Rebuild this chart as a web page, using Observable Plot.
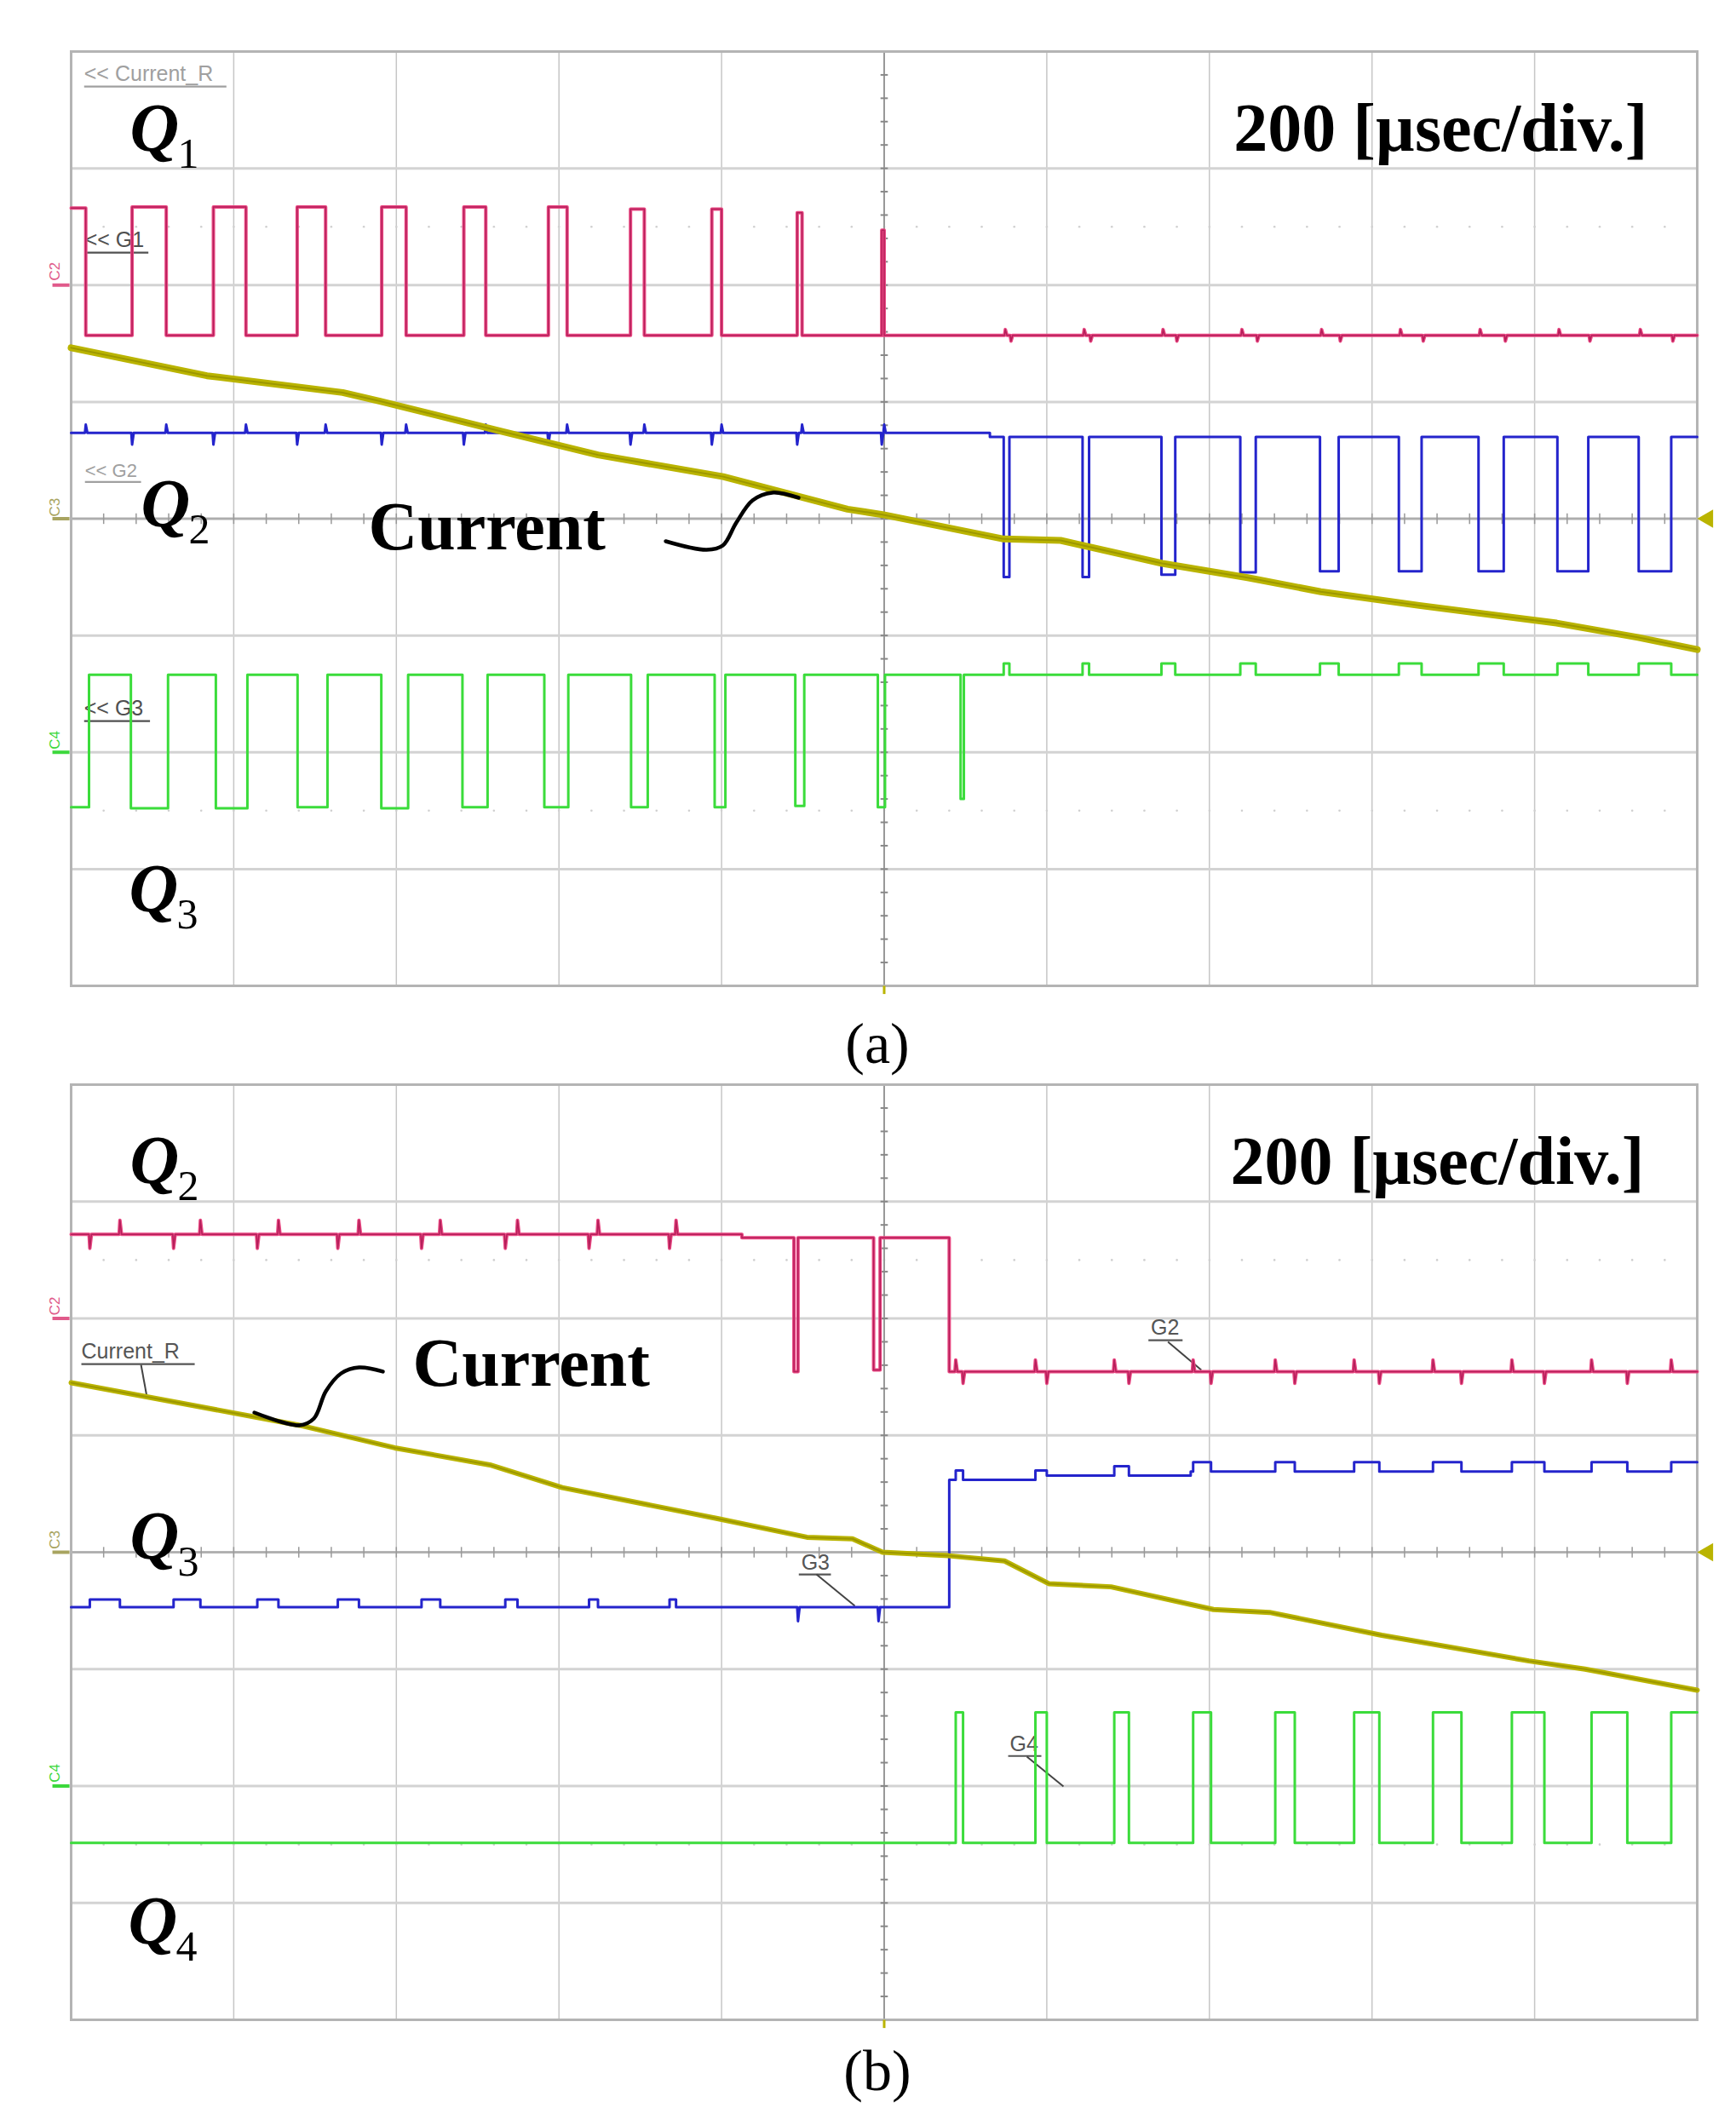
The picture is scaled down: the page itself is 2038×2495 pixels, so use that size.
<!DOCTYPE html>
<html><head><meta charset="utf-8">
<script src="https://cdn.jsdelivr.net/npm/d3@7"></script>
<script src="https://cdn.jsdelivr.net/npm/@observablehq/plot@0.6"></script>
<style>
html,body{margin:0;padding:0;background:#fff;overflow:hidden}
#root{position:relative;width:2038px;height:2495px;background:#fff}
.panel{position:absolute;left:0}
.cap{position:absolute;left:930px;width:200px;text-align:center;font-family:"Liberation Serif","Times New Roman",serif;font-size:68px;line-height:1;color:#000}
</style></head><body>
<div id="root">
<div id="pa" class="panel" style="top:0"></div>
<div class="cap" style="top:1191px">(a)</div>
<div id="pb" class="panel" style="top:1260px"></div>
<div class="cap" style="top:2397px">(b)</div>
</div>
<script>
// time axis: µs (200 µs/div, 10 div), vertical: divisions (8 div)
const T0 = -1000, T1 = 1000;

// ---------- Panel (a) ----------
const A_Q1_rise = [-1000, -925, -825, -722, -618, -517, -413, -312, -212, -107, -3];
const A_Q1_fall = [-982, -883, -785, -687, -588, -490, -390, -295, -200, -101, 0];
const A_Q1_peak = [2.66, 2.67, 2.67, 2.67, 2.67, 2.67, 2.67, 2.65, 2.65, 2.62, 2.47];
const A_Q1_low = 1.57;

const A_Q2_fall = [147, 244, 341, 438, 536, 633, 731, 828, 928];
const A_Q2_rise = [154, 252, 358, 457, 559, 661, 762, 866, 968];
const A_Q2_low = [-0.5, -0.5, -0.48, -0.46, -0.45, -0.45, -0.45, -0.45, -0.45];
const A_Q2_high = [0.735, 0.70];
const A_Q2_highChange = 130;

const A_Q3_fall = [-1000, -926.5, -822, -721.5, -618.5, -518.7, -418, -311.3, -208.5, -109.3, -7.8, 94];
const A_Q3_rise = [-978, -880.8, -783.2, -684.7, -585.5, -487.8, -388.5, -290.8, -195.3, -98.3, 1, 98];
const A_Q3_trough = [-2.47, -2.48, -2.48, -2.47, -2.48, -2.47, -2.47, -2.47, -2.47, -2.46, -2.47, -2.40];
const A_Q3_high = -1.336;
const A_Q3_bump = -1.24;

const A_I_t = [-1000, -833, -666, -620, -472, -352, -198, -105, -45, -2, 147, 217, 342, 447, 537, 658, 827, 927, 1000];
const A_I_v = [1.463, 1.224, 1.08, 1.006, 0.75, 0.546, 0.36, 0.19, 0.081, 0.035, -0.174, -0.186, -0.383, -0.505, -0.625, -0.743, -0.894, -1.016, -1.12];

// ---------- Panel (b) ----------
const B_Q2_high = [2.72, 2.69];
const B_Q2_highChange = -175;
const B_Q2_off = 80;
const B_Q2_low = 1.545;
const B_Q2_dipStart = [-111, -13];
const B_Q2_dipEnd = [-106, -5];
const B_Q2_dipLevel = [1.545, 1.56];

const B_Q3_low = -0.47;
const B_Q3_on = 80;
const B_Q3_highLevels = [0.62, 0.655, 0.69];
const B_Q3_highChanges = [189, 377];
const B_Q3_humpStart = [-977, -874, -771, -672, -569, -466, -363, -264];
const B_Q3_humpEnd = [-940, -841, -745, -646, -546, -451, -352, -256];
const B_Q3_spikes = [-106, -7];

const B_Q4_rise = [88, 186, 283, 380, 481, 578, 675, 772, 870, 968];
const B_Q4_fall = [97, 200, 301, 402, 505, 609, 710, 812, 914, 1000];
const B_Q4_high = -1.37;
const B_Q4_low = -2.487;

const B_I_t = [-1000, -719, -602, -485, -396, -205, -95, -39, -2, 79, 148, 203, 279, 405, 474, 612, 793, 862, 1000];
const B_I_v = [1.45, 1.086, 0.893, 0.747, 0.553, 0.288, 0.128, 0.115, 0.0, -0.03, -0.075, -0.27, -0.296, -0.49, -0.515, -0.71, -0.93, -1.0, -1.18];

// ---------- helpers ----------
function pulsesFrom(starts, ends, levels) {
  return starts.map((a, i) => ({a, b: ends[i], v: Array.isArray(levels) ? levels[i] : levels}));
}
function baseFn(segs) {
  return t => { for (const s of segs) if (t >= s.from && t < s.to) return s.v; return segs[segs.length - 1].v; };
}
function buildTrace(segs, pulses, blips) {
  const baseAt = baseFn(segs);
  let verts = [];
  for (const s of segs) { verts.push({t: s.from, v: s.v}); verts.push({t: s.to, v: s.v}); }
  verts = verts.filter(p => !pulses.some(q => (p.t > q.a && p.t < q.b) || (q.a <= T0 && p.t === T0) || (q.b >= T1 && p.t === T1)));
  for (const q of pulses) {
    if (q.a > T0) verts.push({t: q.a, v: baseAt(q.a)});
    verts.push({t: q.a, v: q.v});
    verts.push({t: q.b, v: q.v});
    if (q.b < T1) verts.push({t: q.b, v: baseAt(q.b)});
  }
  const levelAt = t => { for (const q of pulses) if (t >= q.a && t <= q.b) return q.v; return baseAt(t); };
  for (const b of (blips || [])) {
    const lv = levelAt(b.t);
    verts.push({t: b.t - 1, v: lv}, {t: b.t, v: lv + b.dv}, {t: b.t + 2, v: lv});
  }
  verts.sort((p, q) => p.t - q.t);
  return verts;
}

const SERIF = '"Liberation Serif","Times New Roman",serif';
const SANS = '"Liberation Sans",Arial,sans-serif';
const PINK = "#ea4a84", PINK_CORE = "#b51f5a", BLUE = "#2424cc", GREEN = "#3bdc3b", OLIVE = "#bab400", OLIVE_CORE = "#9c9700";

function gridMarks() {
  return [
    Plot.ruleX(d3.range(-1000, 1001, 200), {stroke: "#c6c6c6", strokeWidth: 1.5}),
    Plot.ruleY(d3.range(-4, 4.5, 1), {stroke: "#d3d3d3", strokeWidth: 3}),
    Plot.dot(d3.range(-1000, 1001, 40).flatMap(t => [{t, v: 2.5}, {t, v: -2.5}]), {x: "t", y: "v", r: 1.3, fill: "#cfcfcf", stroke: null}),
    Plot.ruleX([0], {stroke: "#999", strokeWidth: 2}),
    Plot.ruleY([0], {stroke: "#adadad", strokeWidth: 2.5}),
    Plot.link(d3.range(-4, 4.001, 0.2), {x1: -4.5, x2: 4.5, y1: d => d, y2: d => d, stroke: "#888", strokeWidth: 2}),
    Plot.link(d3.range(-1000, 1000.1, 40), {x1: d => d, x2: d => d, y1: -0.045, y2: 0.045, stroke: "#999", strokeWidth: 1.5}),
    Plot.frame({stroke: "#b4b4b4", strokeWidth: 3}),
    Plot.link([0], {x1: 0, x2: 0, y1: -4, y2: -4.07, stroke: OLIVE, strokeWidth: 3}),
    Plot.dot([0], {x: 1013, y: 0, symbol: "triangle", rotate: -90, r: 8, fill: OLIVE, stroke: null})
  ];
}
function qLabel(t, v, sub) {
  return [
    Plot.text(["Q"], {x: t, y: v, text: d => d, textAnchor: "start", lineAnchor: "bottom", fontFamily: SERIF, fontSize: 80, fontWeight: "bold", fontStyle: "italic", fill: "#000"}),
    Plot.text([sub], {x: t, y: v, text: d => d, dx: 56, dy: 20, textAnchor: "start", lineAnchor: "bottom", fontFamily: SERIF, fontSize: 50, fill: "#000"})
  ];
}
function chMarker(name, v, tv, color) {
  return [
    Plot.text([name], {x: -1020, y: tv, text: d => d, rotate: -90, textAnchor: "middle", lineAnchor: "middle", fontFamily: SANS, fontSize: 17, fill: color}),
    Plot.link([0], {x1: -1023, x2: -1002, y1: v, y2: v, stroke: color, strokeWidth: 4})
  ];
}
function tag(t, v, txt, color, ulFrom, ulTo, size) {
  return [
    Plot.text([txt], {x: t, y: v, text: d => d, textAnchor: "start", lineAnchor: "bottom", fontFamily: SANS, fontSize: size || 25, fill: color}),
    Plot.link([0], {x1: ulFrom, x2: ulTo, y1: v - 0.045, y2: v - 0.045, stroke: color, strokeWidth: 2.2})
  ];
}
function traceMarks(pts, color, width, core, coreWidth) {
  const m = [Plot.line(pts, {x: "t", y: "v", stroke: color, strokeWidth: width, strokeLinejoin: "round"})];
  if (core) m.push(Plot.line(pts, {x: "t", y: "v", stroke: core, strokeWidth: coreWidth, strokeLinejoin: "round"}));
  return m;
}
const bigText = (t, v, txt, anchor) => Plot.text([txt], {x: t, y: v, text: d => d, textAnchor: anchor, lineAnchor: "bottom", fontFamily: SERIF, fontSize: 80, fontWeight: "bold", fill: "#000"});

// ---------- traces (a) ----------
const aPink = buildTrace(
  [{from: T0, to: T1, v: A_Q1_low}],
  pulsesFrom(A_Q1_rise, A_Q1_fall, A_Q1_peak),
  A_Q2_fall.map(t => ({t: t + 2, dv: 0.05})).concat(A_Q2_rise.map(t => ({t: t + 2, dv: -0.05})))
);
const aBlue = buildTrace(
  [{from: T0, to: A_Q2_highChange, v: A_Q2_high[0]}, {from: A_Q2_highChange, to: T1, v: A_Q2_high[1]}],
  pulsesFrom(A_Q2_fall, A_Q2_rise, A_Q2_low),
  A_Q1_rise.filter(t => t > T0).map(t => ({t, dv: -0.1})).concat(A_Q1_fall.map(t => ({t, dv: 0.07})))
);
const aGreen = buildTrace(
  [{from: T0, to: T1, v: A_Q3_high}],
  pulsesFrom(A_Q3_fall, A_Q3_rise, A_Q3_trough).concat(pulsesFrom(A_Q2_fall, A_Q2_rise, A_Q3_bump)),
  []
);
const aCurrent = A_I_t.map((t, i) => ({t, v: A_I_v[i]}));

// ---------- traces (b) ----------
const bPink = buildTrace(
  [{from: T0, to: B_Q2_highChange, v: B_Q2_high[0]}, {from: B_Q2_highChange, to: B_Q2_off, v: B_Q2_high[1]}, {from: B_Q2_off, to: T1, v: B_Q2_low}],
  pulsesFrom(B_Q2_dipStart, B_Q2_dipEnd, B_Q2_dipLevel),
  B_Q3_humpStart.map(t => ({t, dv: -0.12}))
    .concat(B_Q3_humpEnd.map(t => ({t, dv: 0.12})))
    .concat(B_Q4_rise.map(t => ({t, dv: 0.1})))
    .concat(B_Q4_fall.filter(t => t < T1).map(t => ({t, dv: -0.1})))
);
const bBlueSegs = [{from: T0, to: B_Q3_on, v: B_Q3_low},
  {from: B_Q3_on, to: B_Q3_highChanges[0], v: B_Q3_highLevels[0]},
  {from: B_Q3_highChanges[0], to: B_Q3_highChanges[1], v: B_Q3_highLevels[1]},
  {from: B_Q3_highChanges[1], to: T1, v: B_Q3_highLevels[2]}];
const bBlueBase = baseFn(bBlueSegs);
const bBlue = buildTrace(
  bBlueSegs,
  pulsesFrom(B_Q3_humpStart, B_Q3_humpEnd, B_Q3_low + 0.065)
    .concat(B_Q4_rise.map((a, i) => ({a, b: B_Q4_fall[i], v: bBlueBase(a) + 0.08}))),
  B_Q3_spikes.map(t => ({t, dv: -0.12}))
);
const bGreen = buildTrace(
  [{from: T0, to: T1, v: B_Q4_low}],
  pulsesFrom(B_Q4_rise, B_Q4_fall, B_Q4_high),
  []
);
const bCurrent = B_I_t.map((t, i) => ({t, v: B_I_v[i]}));

// ---------- panel (a) ----------
const squigA = [{t: -268.7, v: -0.193}, {t: -218.4, v: -0.266}, {t: -198.5, v: -0.23}, {t: -181.8, v: -0.033}, {t: -161.9, v: 0.157}, {t: -137.8, v: 0.223}, {t: -105.3, v: 0.179}];
const plotA = Plot.plot({
  width: 2038, height: 1200,
  marginLeft: 83, marginRight: 46, marginTop: 60, marginBottom: 43,
  x: {domain: [T0, T1], axis: null},
  y: {domain: [-4, 4], axis: null},
  style: {background: "transparent", overflow: "visible"},
  marks: [
    ...gridMarks(),
    ...chMarker("C2", 2, 2.117, "#e05a8a"),
    ...chMarker("C3", 0, 0.098, "#a8a460"),
    ...chMarker("C4", -2, -1.896, "#3cd83c"),
    ...tag(-984, 3.745, "<< Current_R", "#a0a0a0", -984, -809),
    ...tag(-983, 2.323, "<< G1", "#505050", -983, -905),
    ...tag(-983, 0.36, "<< G2", "#a0a0a0", -983, -914, 22),
    ...tag(-984, -1.688, "<< G3", "#505050", -984, -903),
    ...traceMarks(aGreen, GREEN, 3),
    ...traceMarks(aBlue, BLUE, 3),
    ...traceMarks(aPink, PINK, 4, PINK_CORE, 1.5),
    ...traceMarks(aCurrent, OLIVE, 8, OLIVE_CORE, 2),
    ...qLabel(-927.7, 3.154, "1"),
    ...qLabel(-914, -0.069, "2"),
    ...qLabel(-928.7, -3.36, "3"),
    bigText(939, 3.147, "200 [µsec/div.]", "end"),
    bigText(-634.4, -0.266, "Current", "start"),
    Plot.line(squigA, {x: "t", y: "v", curve: "catmull-rom", stroke: "#000", strokeWidth: 4.5})
  ]
});
document.getElementById("pa").appendChild(plotA);

// ---------- panel (b) ----------
const squigB = [{t: -774.7, v: 1.195}, {t: -719.2, v: 1.086}, {t: -701.4, v: 1.144}, {t: -686.7, v: 1.377}, {t: -667.9, v: 1.53}, {t: -645.9, v: 1.581}, {t: -616.5, v: 1.545}];
const plotB = Plot.plot({
  width: 2038, height: 1140,
  marginLeft: 83, marginRight: 46, marginTop: 13, marginBottom: 29,
  x: {domain: [T0, T1], axis: null},
  y: {domain: [-4, 4], axis: null},
  style: {background: "transparent", overflow: "visible"},
  marks: [
    ...gridMarks(),
    ...chMarker("C2", 2, 2.106, "#e05a8a"),
    ...chMarker("C3", 0, 0.106, "#a8a460"),
    ...chMarker("C4", -2, -1.89, "#3cd83c"),
    ...tag(-987.4, 1.654, "Current_R", "#555", -987.4, -848),
    Plot.link([0], {x1: -914, y1: 1.603, x2: -906.7, y2: 1.326, stroke: "#444", strokeWidth: 2}),
    ...tag(328, 1.858, "G2", "#555", 325, 367),
    Plot.link([0], {x1: 349, y1: 1.80, x2: 390, y2: 1.559, stroke: "#444", strokeWidth: 2}),
    ...tag(-102, -0.146, "G3", "#555", -105, -65.5),
    Plot.link([0], {x1: -83.3, y1: -0.189, x2: -36.1, y2: -0.459, stroke: "#444", strokeWidth: 2}),
    ...tag(154.5, -1.698, "G4", "#555", 152.5, 193.3),
    Plot.link([0], {x1: 175.5, y1: -1.749, x2: 220.5, y2: -2.004, stroke: "#444", strokeWidth: 2}),
    ...traceMarks(bGreen, GREEN, 3),
    ...traceMarks(bBlue, BLUE, 3),
    ...traceMarks(bPink, PINK, 4, PINK_CORE, 1.5),
    ...traceMarks(bCurrent, OLIVE, 6, OLIVE_CORE, 2),
    ...qLabel(-927.7, 3.155, "2"),
    ...qLabel(-927.7, -0.058, "3"),
    ...qLabel(-929.7, -3.35, "4"),
    bigText(935, 3.148, "200 [µsec/div.]", "end"),
    bigText(-579.9, 1.421, "Current", "start"),
    Plot.line(squigB, {x: "t", y: "v", curve: "catmull-rom", stroke: "#000", strokeWidth: 4.5})
  ]
});
document.getElementById("pb").appendChild(plotB);
</script></body></html>
